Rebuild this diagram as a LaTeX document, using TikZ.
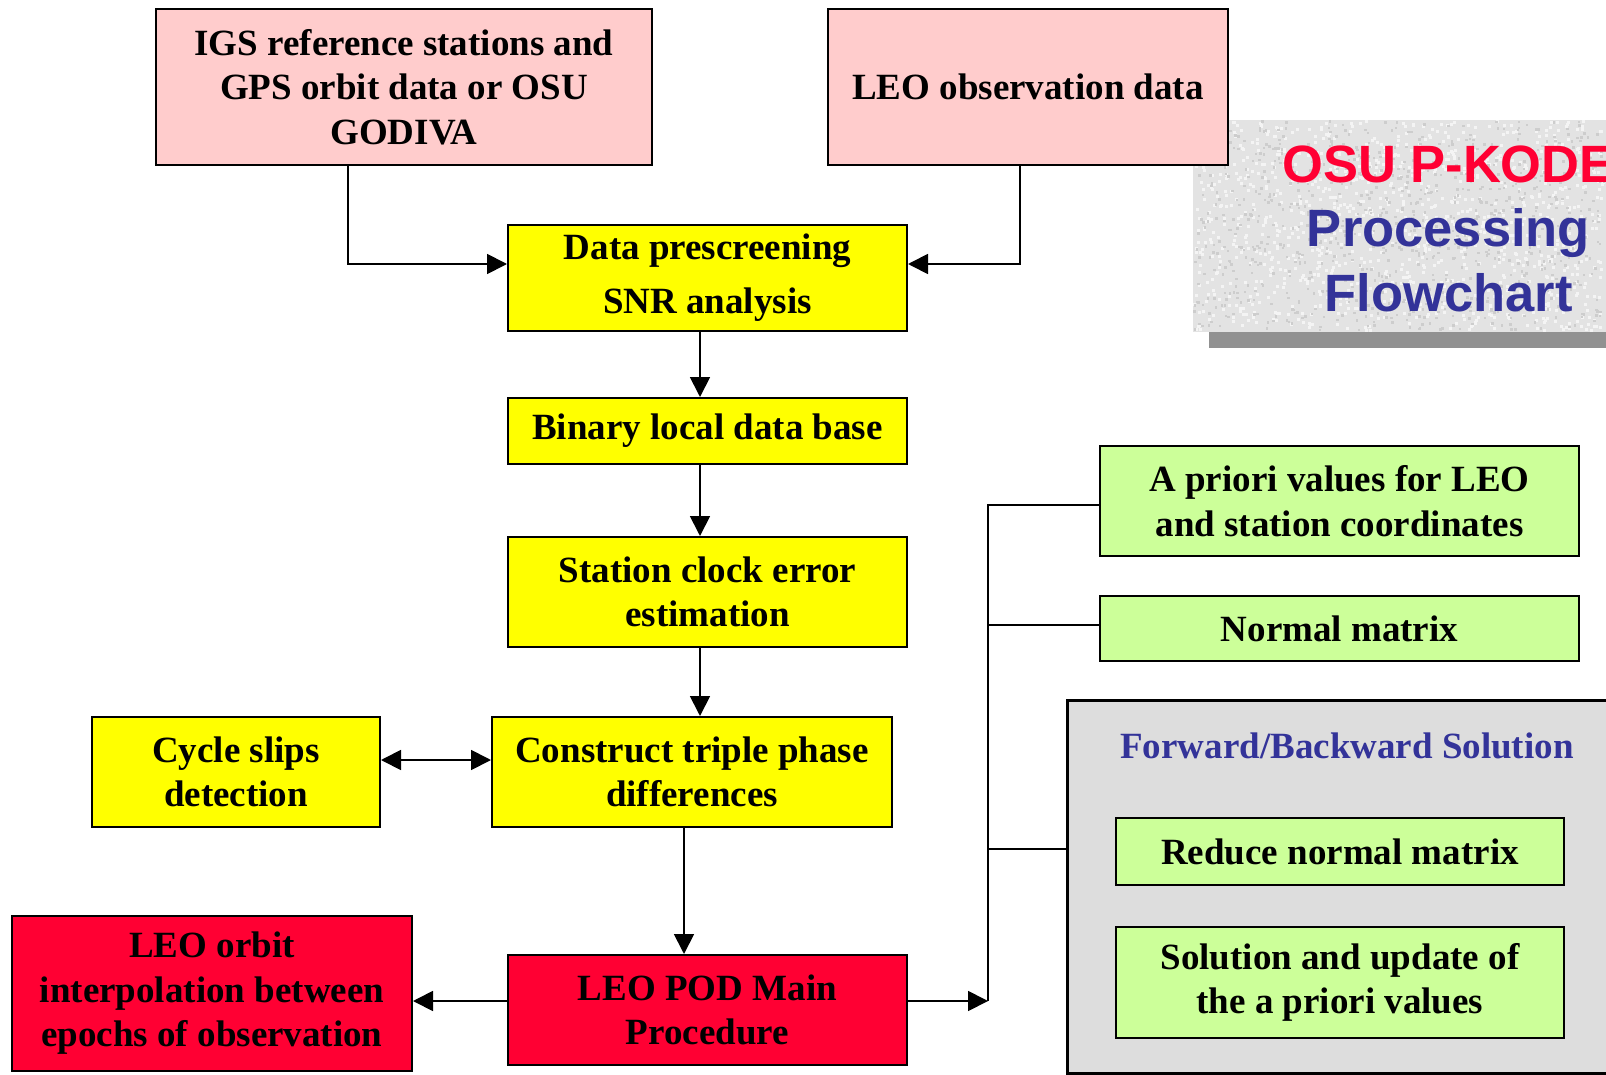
\documentclass[tikz,border=0pt]{standalone}
\usepackage{fontspec}
\setmainfont{Liberation Serif}
\newfontfamily\titlefont{Liberation Sans}
\usetikzlibrary{arrows.meta}
\definecolor{pinkbox}{HTML}{FFCCCC}
\definecolor{yelbox}{HTML}{FFFF00}
\definecolor{redbox}{HTML}{FF0033}
\definecolor{grnbox}{HTML}{CCFF99}
\definecolor{graybox}{HTML}{DDDDDD}
\definecolor{titlered}{HTML}{FF0033}
\definecolor{titleblue}{HTML}{333399}
\definecolor{texbg}{HTML}{E3E3E3}
\definecolor{speck}{HTML}{CDCDCD}
\definecolor{speckw}{HTML}{F4F4F4}
\definecolor{shadowgray}{HTML}{919191}
\begin{document}
\begin{tikzpicture}[x=1pt,y=-1pt,
  box/.style={draw=black,line width=2pt,inner sep=0pt,align=center,
    font=\bfseries\fontsize{37}{44.5}\selectfont},
  conn/.style={line width=1.8pt,draw=black},
  arr/.style={conn,-{Triangle[length=20pt,width=20pt]}},
  darr/.style={conn,{Triangle[length=20pt,width=20pt]}-{Triangle[length=20pt,width=20pt]}},
  ttl/.style={anchor=base,inner sep=0pt,font=\titlefont\bfseries\fontsize{52.5}{64.5}\selectfont}
]
\clip (0,0) rectangle (1606,1075);
\fill[white] (0,0) rectangle (1606,1075);

% title panel
\fill[shadowgray] (1209,136) rectangle (1640,348);
\fill[texbg] (1193,120) rectangle (1640,332);
\pgfmathsetseed{11}
\foreach \i in {1,...,1100}{
  \pgfmathsetmacro\xx{1193+410*rnd}
  \pgfmathsetmacro\yy{120+209*rnd}
  \fill[speckw] (\xx,\yy) rectangle ++(3,3);
}
\foreach \i in {1,...,900}{
  \pgfmathsetmacro\xx{1193+410*rnd}
  \pgfmathsetmacro\yy{120+209*rnd}
  \fill[speck] (\xx,\yy) rectangle ++(2.5,2.5);
}
\node[ttl,text=titlered] (t1) at (1448.5,183) {OSU P-KODE};
\node[ttl,text=titleblue] (t2) at (1448.5,247) {Processing};
\node[ttl,text=titleblue] (t3) at (1448.5,312) {Flowchart};

% top boxes
\node[box,fill=pinkbox,minimum width=496pt,minimum height=156pt] (igs) at (404,87)
  {IGS reference stations and\\GPS orbit data or OSU\\GODIVA};
\node[box,fill=pinkbox,minimum width=400pt,minimum height=156pt] (leo) at (1028,87)
  {LEO observation data};

% main chain
\node[box,fill=yelbox,minimum width=399pt,minimum height=106pt] (dp) at (707.5,278)
  {Data prescreening\\[9.5pt]SNR analysis};
\node[box,fill=yelbox,minimum width=399pt,minimum height=66pt] (bin) at (707.5,431)
  {Binary local data base};
\node[box,fill=yelbox,minimum width=399pt,minimum height=110pt] (clk) at (707.5,592)
  {Station clock error\\estimation};
\node[box,fill=yelbox,minimum width=400pt,minimum height=110pt] (ctp) at (692,772)
  {Construct triple phase\\differences};
\node[box,fill=yelbox,minimum width=288pt,minimum height=110pt] (cyc) at (236,772)
  {Cycle slips\\detection};
\node[box,fill=redbox,minimum width=399pt,minimum height=110pt] (pod) at (707.5,1010)
  {LEO POD Main\\Procedure};
\node[box,fill=redbox,minimum width=400pt,minimum height=155pt] (orb) at (212,993.5)
  {LEO orbit\\interpolation between\\epochs of observation};

% right side
\node[box,fill=grnbox,minimum width=479pt,minimum height=110pt] (apr) at (1339.5,501)
  {A priori values for LEO\\and station coordinates};
\node[box,fill=grnbox,minimum width=479pt,minimum height=65pt] (nm) at (1339.5,628.5)
  {Normal matrix};
\node[draw=black,line width=3pt,fill=graybox,inner sep=0pt,minimum width=558pt,minimum height=373pt] (fb) at (1346,886.5) {};
\node[anchor=base,inner sep=0pt,text=titleblue,font=\bfseries\fontsize{37}{44.5}\selectfont] (fbt) at (1347,758)
  {Forward/Backward Solution};
\node[box,fill=grnbox,minimum width=448pt,minimum height=67pt] (red) at (1340,851.5)
  {Reduce normal matrix};
\node[box,fill=grnbox,minimum width=448pt,minimum height=111pt] (sol) at (1340,982.5)
  {Solution and update of\\the a priori values};

% connectors
\draw[arr] (igs.south -| 348,0) |- (dp.west |- 0,264);
\draw[arr] (leo.south -| 1020,0) |- (dp.east |- 0,264);
\draw[arr] (dp.south -| 700,0) -- (bin.north -| 700,0);
\draw[arr] (bin.south -| 700,0) -- (clk.north -| 700,0);
\draw[arr] (clk.south -| 700,0) -- (ctp.north -| 700,0);
\draw[darr] (cyc.east |- 0,760) -- (ctp.west |- 0,760);
\draw[arr] (ctp.south -| 684,0) -- (pod.north -| 684,0);
\draw[arr] (pod.west |- 0,1001) -- (orb.east |- 0,1001);
\coordinate (busbot) at (988,1001);
\coordinate (bustop) at (988,505);
\draw[arr] (pod.east |- busbot) -- (busbot);
\draw[conn] (busbot) -- (bustop) -- (apr.west |- bustop);
\draw[conn] (bustop |- 0,625) -- (nm.west |- 0,625);
\draw[conn] (bustop |- 0,849) -- (fb.west |- 0,849);
\end{tikzpicture}
\end{document}
